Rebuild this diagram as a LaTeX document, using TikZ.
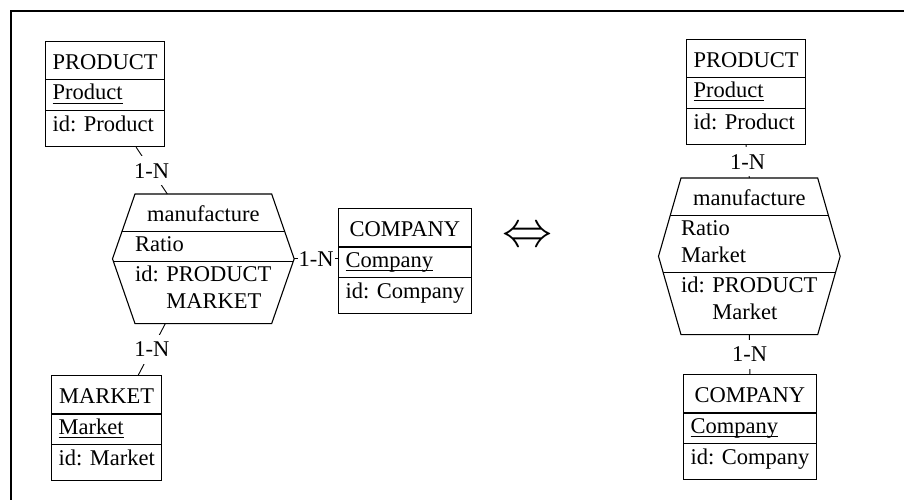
\RequirePackage{fix-cm}
\documentclass[tikz,border=0pt]{standalone}
\usepackage{fontspec}
\setmainfont{Liberation Serif}
\usetikzlibrary{shapes.multipart}

% underlined identifier attribute
\newsavebox{\keybox}
\newcommand{\keyattr}[1]{\sbox{\keybox}{#1}\rlap{\rule[-3.5pt]{\wd\keybox}{1pt}}\usebox{\keybox}}
% row struts for the compartments
\newcommand{\headstrut}{\rule[-10pt]{0pt}{37.3pt}}
\newcommand{\attstrut}{\rule[-10pt]{0pt}{29.5pt}}
\newcommand{\idstrut}{\rule[-14.7pt]{0pt}{35pt}}

\begin{document}
\begin{tikzpicture}[x=1pt, y=-1pt, font=\fontsize{22.5}{27}\selectfont,
    entity/.style={rectangle split, rectangle split parts=3,
      rectangle split part align={center,left,left},
      draw, line width=1.1pt, inner xsep=7pt, inner ysep=0pt, anchor=north west},
    relship/.style={rectangle split, rectangle split parts=3,
      rectangle split part align={center,left,left},
      inner sep=0pt, anchor=north west},
    card/.style={fill=white, inner xsep=1pt, inner ysep=7pt},
    link/.style={line width=0.9pt}]
  \useasboundingbox (0,0) rectangle (904,500);
  \draw[line width=2pt] (11,500) -- (11,11) -- (904,11);

  % Left schema
  \node[entity] (prodL) at (45,41)
    {\headstrut PRODUCT\nodepart{two}\attstrut\keyattr{Product}\nodepart{three}\idstrut id: Product};
  \node[entity] (compL) at (338,208)
    {\headstrut COMPANY\nodepart{two}\attstrut\keyattr{Company}\nodepart{three}\idstrut id: Company};
  \node[entity] (mktL) at (51,375)
    {\headstrut MARKET\nodepart{two}\attstrut\keyattr{Market}\nodepart{three}\idstrut id: Market};
  \node[relship] (relL) at (135,194)
    {\headstrut manufacture\nodepart{two}\attstrut Ratio\nodepart{three}%
     \begin{tabular}[t]{@{}l@{}}\rule{0pt}{19.5pt}id: PRODUCT\\\phantom{id: }MARKET\rule[-14.7pt]{0pt}{0pt}\end{tabular}};

  % Right schema
  \node[entity] (prodR) at (686,39)
    {\headstrut PRODUCT\nodepart{two}\attstrut\keyattr{Product}\nodepart{three}\idstrut id: Product};
  \node[entity] (compR) at (683,374)
    {\headstrut COMPANY\nodepart{two}\attstrut\keyattr{Company}\nodepart{three}\idstrut id: Company};
  \node[relship] (relR) at (681,178)
    {\headstrut manufacture\nodepart{two}%
     \begin{tabular}[t]{@{}l@{}}\rule{0pt}{19.5pt}Ratio\\Market\rule[-10pt]{0pt}{0pt}\end{tabular}\nodepart{three}%
     \begin{tabular}[t]{@{}l@{}}\rule{0pt}{19.5pt}id: PRODUCT\\\phantom{id: }Market\rule[-14.7pt]{0pt}{0pt}\end{tabular}};

  \node[font=\fontsize{50}{55}\selectfont] (equiv) at (527,237) {$\Leftrightarrow$};

  % Relationship outlines
  \foreach \r in {relL,relR} {
    \coordinate (\r-w) at ([xshift=-22.5pt]\r.west);
    \coordinate (\r-e) at ([xshift=22.5pt]\r.east);
    \draw[line width=1.1pt] (\r.north west) -- (\r.north east) -- (\r-e)
      -- (\r.south east) -- (\r.south west) -- (\r-w) -- cycle;
    \begin{scope}
      \clip (\r.north west) -- (\r.north east) -- (\r-e)
        -- (\r.south east) -- (\r.south west) -- (\r-w) -- cycle;
      \draw[line width=1.1pt] (\r-w |- \r.one split) -- (\r-e |- \r.one split)
        (\r-w |- \r.two split) -- (\r-e |- \r.two split);
    \end{scope}
  }

  % Roles
  \draw[link] ([xshift=-29pt]prodL.south east) -- node[card] {1-N} ([xshift=-36pt]relL.north);
  \draw[link] ([xshift=-38pt]relL.south) -- node[card] {1-N} ([xshift=-24pt]mktL.north east);
  \draw[link] (relL-e) -- node[card] {1-N} (relL-e -| compL.west);
  \draw[link] (prodR.south) -- node[card] {1-N} (relR.north);
  \draw[link] (relR.south) -- node[card] {1-N} (compR.north);
\end{tikzpicture}
\end{document}
